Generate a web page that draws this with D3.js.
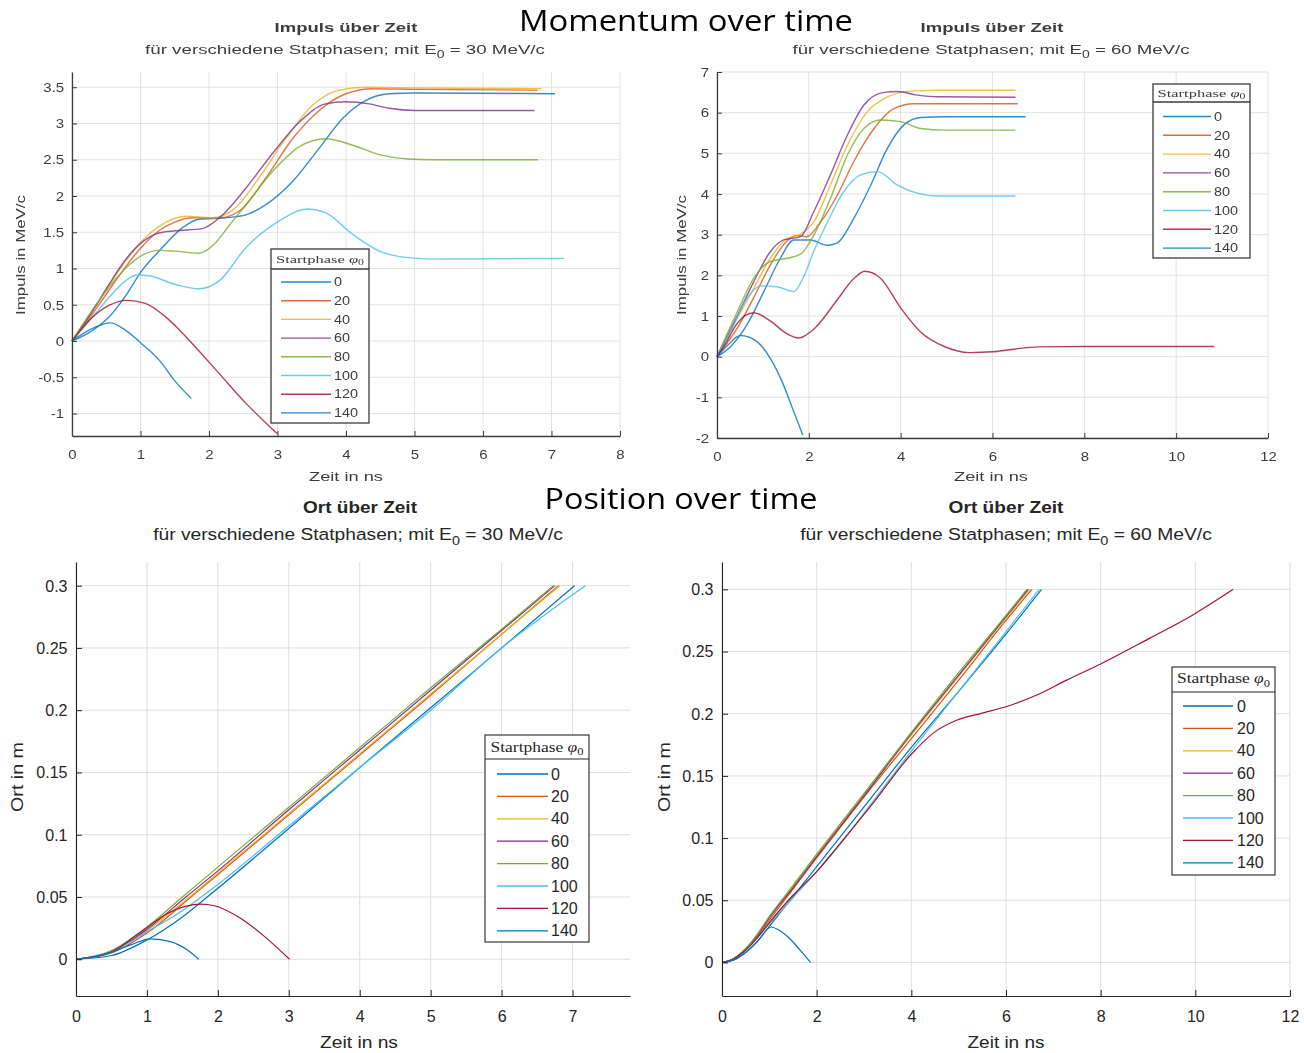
<!DOCTYPE html>
<html>
<head>
<meta charset="utf-8">
<script src="https://cdn.jsdelivr.net/npm/d3@7"></script>
<style>
  html, body { margin: 0; padding: 0; background: #fff; }
  svg { display: block; }
</style>
</head>
<body>
<svg id="fig" width="1304" height="1053"></svg>
<script>
// Startphasen und MATLAB-Farbreihenfolge
const phases = [0, 20, 40, 60, 80, 100, 120, 140];
const phaseColors = ["#0072BD", "#D95319", "#EDB120", "#7E2F8E", "#77AC30", "#4DBEEE", "#A2142F", "#0072BD"];

// Impuls über Zeit, E0 = 30 MeV/c  ([t in ns, p in MeV/c])
const impuls30 = [
  [[0,0],[0.29,0.14],[0.54,0.33],[0.78,0.62],[1.02,0.97],[1.27,1.24],[1.61,1.56],[1.85,1.68],[2.24,1.7],[2.54,1.74],[2.83,1.88],[3.22,2.2],[3.61,2.66],[3.95,3.07],[4.29,3.32],[4.63,3.41],[5.0,3.42],[7.05,3.41]],
  [[0,0],[0.29,0.36],[0.54,0.7],[0.78,1.02],[1.02,1.3],[1.27,1.52],[1.5,1.64],[1.76,1.7],[2.15,1.7],[2.44,1.79],[2.83,2.25],[3.22,2.79],[3.61,3.18],[4.0,3.41],[4.39,3.48],[5.0,3.47],[6.8,3.46]],
  [[0,0],[0.29,0.4],[0.54,0.76],[0.78,1.1],[1.02,1.38],[1.27,1.58],[1.66,1.72],[2.05,1.7],[2.39,1.84],[2.73,2.25],[3.12,2.79],[3.51,3.25],[3.9,3.46],[4.29,3.5],[5.0,3.49],[6.85,3.48]],
  [[0,0],[0.29,0.4],[0.54,0.78],[0.78,1.12],[1.02,1.36],[1.27,1.49],[1.51,1.52],[1.9,1.55],[2.2,1.74],[2.54,2.11],[2.93,2.59],[3.32,3.02],[3.7,3.27],[4.0,3.3],[4.34,3.27],[4.63,3.21],[5.0,3.18],[6.75,3.18]],
  [[0,0],[0.29,0.42],[0.54,0.74],[0.78,1.0],[1.02,1.18],[1.27,1.25],[1.5,1.24],[1.85,1.21],[2.1,1.36],[2.3,1.6],[2.54,1.88],[2.93,2.34],[3.32,2.68],[3.7,2.79],[4.1,2.7],[4.49,2.57],[4.9,2.51],[5.3,2.5],[6.8,2.5]],
  [[0,0],[0.29,0.32],[0.54,0.6],[0.78,0.83],[0.95,0.91],[1.12,0.9],[1.51,0.78],[1.85,0.72],[2.15,0.83],[2.54,1.29],[2.98,1.63],[3.45,1.82],[3.7,1.77],[4.1,1.47],[4.49,1.24],[4.9,1.15],[5.3,1.13],[7.18,1.14]],
  [[0,0],[0.29,0.32],[0.54,0.49],[0.8,0.56],[1.07,0.52],[1.37,0.33],[1.76,-0.04],[2.15,-0.45],[2.54,-0.86],[2.83,-1.13],[3.0,-1.28]],
  [[0,0],[0.29,0.17],[0.56,0.25],[0.78,0.15],[1.02,-0.04],[1.27,-0.26],[1.51,-0.56],[1.74,-0.79]]
];

// Impuls über Zeit, E0 = 60 MeV/c
const impuls60 = [
  [[0,0],[0.3,0.25],[0.65,0.78],[1.02,1.6],[1.38,2.42],[1.67,2.87],[2.04,2.87],[2.4,2.74],[2.62,2.8],[2.98,3.4],[3.35,4.22],[3.71,5.12],[4.07,5.7],[4.44,5.88],[5.0,5.9],[6.72,5.9]],
  [[0,0],[0.44,0.7],[0.8,1.45],[1.16,2.25],[1.53,2.85],[1.75,2.98],[1.95,2.95],[2.25,3.3],[2.62,3.97],[2.98,4.8],[3.42,5.61],[3.85,6.1],[4.29,6.22],[5.0,6.22],[6.55,6.22]],
  [[0,0],[0.44,0.94],[0.8,1.68],[1.16,2.42],[1.53,2.91],[1.8,3.0],[2.11,3.32],[2.47,4.22],[2.84,5.2],[3.27,6.02],[3.7,6.38],[4.22,6.53],[5.0,6.55],[6.5,6.55]],
  [[0,0],[0.44,1.0],[0.8,1.84],[1.16,2.58],[1.45,2.87],[1.82,2.95],[2.11,3.57],[2.47,4.47],[2.84,5.45],[3.2,6.19],[3.64,6.5],[3.93,6.52],[4.36,6.43],[4.8,6.39],[6.5,6.38]],
  [[0,0],[0.44,1.1],[0.8,1.93],[1.16,2.34],[1.53,2.42],[1.82,2.52],[2.11,2.99],[2.47,3.89],[2.84,4.96],[3.2,5.61],[3.56,5.82],[4.0,5.78],[4.44,5.61],[4.95,5.57],[6.5,5.57]],
  [[0,0],[0.29,0.61],[0.65,1.43],[0.95,1.74],[1.31,1.72],[1.67,1.6],[1.9,2.0],[2.11,2.6],[2.4,3.3],[2.76,4.06],[3.13,4.47],[3.5,4.55],[3.93,4.22],[4.36,4.02],[4.8,3.95],[6.5,3.95]],
  [[0,0],[0.2,0.35],[0.44,0.82],[0.8,1.08],[1.16,0.88],[1.5,0.58],[1.78,0.46],[2.11,0.68],[2.62,1.4],[2.98,1.92],[3.22,2.1],[3.56,1.93],[4.0,1.2],[4.44,0.6],[4.95,0.25],[5.5,0.1],[6.0,0.12],[6.5,0.19],[7.0,0.24],[8.0,0.25],[10.83,0.25]],
  [[0,0],[0.25,0.3],[0.51,0.52],[0.87,0.37],[1.16,-0.04],[1.45,-0.7],[1.67,-1.35],[1.87,-1.93]]
];

// Ort über Zeit, E0 = 30 MeV/c  ([t in ns, x in m])
const ort30 = [
  [[0,0],[0.5,0.003],[1,0.0155],[1.5,0.034],[1.85,0.05],[3,0.105],[4,0.154],[5,0.202],[6,0.25],[7.03,0.3]],
  [[0,0],[0.5,0.005],[1,0.021],[1.62,0.05],[2,0.068],[3,0.116],[4,0.164],[5,0.212],[6,0.261],[6.8,0.3]],
  [[0,0],[0.5,0.006],[1,0.023],[1.6,0.05],[2,0.069],[3,0.117],[4,0.165],[5,0.213],[6,0.261],[6.82,0.3]],
  [[0,0],[0.5,0.006],[1,0.024],[1.55,0.05],[2,0.071],[3,0.12],[4,0.168],[5,0.216],[6,0.264],[6.75,0.3]],
  [[0,0],[0.5,0.007],[1,0.026],[1.5,0.05],[2,0.074],[3,0.122],[4,0.17],[5,0.218],[6,0.265],[6.73,0.3]],
  [[0,0],[0.5,0.006],[1,0.022],[1.5,0.039],[2,0.06],[3,0.107],[4,0.154],[5,0.2],[6,0.25],[7.18,0.3]],
  [[0,0],[0.5,0.006],[0.86,0.0196],[1.33,0.038],[1.76,0.0442],[1.95,0.043],[2.28,0.0343],[2.66,0.0182],[3.01,0]],
  [[0,0],[0.38,0.0035],[0.76,0.0114],[1.05,0.0164],[1.33,0.0142],[1.57,0.0075],[1.73,0]]
];

// Ort über Zeit, E0 = 60 MeV/c
const ort60 = [
  [[0,0],[0.25,0.002],[0.5,0.008],[0.75,0.017],[1,0.029],[1.5,0.053],[2,0.077],[3,0.125],[4,0.173],[5,0.218],[6,0.264],[6.75,0.3]],
  [[0,0],[0.25,0.003],[0.5,0.01],[0.75,0.021],[1,0.034],[1.5,0.059],[2,0.084],[3,0.133],[4,0.18],[5,0.227],[6,0.275],[6.55,0.3]],
  [[0,0],[0.25,0.003],[0.5,0.011],[0.75,0.022],[1,0.036],[1.5,0.061],[2,0.086],[3,0.135],[4,0.183],[5,0.23],[6,0.277],[6.5,0.3]],
  [[0,0],[0.25,0.003],[0.5,0.011],[0.75,0.022],[1,0.036],[1.5,0.06],[2,0.085],[3,0.134],[4,0.184],[5,0.231],[6,0.278],[6.47,0.3]],
  [[0,0],[0.25,0.003],[0.5,0.011],[0.75,0.023],[1,0.037],[1.5,0.062],[2,0.087],[3,0.136],[4,0.185],[5,0.233],[6,0.279],[6.44,0.3]],
  [[0,0],[0.25,0.003],[0.5,0.01],[0.75,0.02],[1,0.031],[1.5,0.052],[2,0.073],[2.5,0.095],[3,0.12],[4,0.17],[5,0.218],[6,0.266],[6.7,0.3]],
  [[0,0],[0.25,0.003],[0.5,0.01],[0.75,0.02],[1,0.032],[1.5,0.054],[2,0.073],[2.48,0.095],[3.23,0.13],[3.99,0.167],[4.52,0.186],[4.97,0.195],[5.5,0.2005],[6.03,0.206],[6.71,0.216],[7.28,0.227],[8,0.24],[9.05,0.261],[9.93,0.279],[10.8,0.3]],
  [[0,0],[0.25,0.002],[0.5,0.008],[0.75,0.017],[1.04,0.0285],[1.2,0.026],[1.39,0.0206],[1.65,0.0099],[1.87,0]]
];

// Achsenticks
const impuls30XTicks = [0, 1, 2, 3, 4, 5, 6, 7, 8];
const impuls30YTicks = [-1, -0.5, 0, 0.5, 1, 1.5, 2, 2.5, 3, 3.5];
const impuls60XTicks = [0, 2, 4, 6, 8, 10, 12];
const impuls60YTicks = [-2, -1, 0, 1, 2, 3, 4, 5, 6, 7];
const ort30XTicks = [0, 1, 2, 3, 4, 5, 6, 7];
const ort60XTicks = [0, 2, 4, 6, 8, 10, 12];
const ortYTicks = [0, 0.05, 0.1, 0.15, 0.2, 0.25, 0.3];

const FONT = "'Liberation Sans', Arial, Helvetica, sans-serif";
const SERIF = "'Liberation Serif', 'DejaVu Serif', serif";

const svg = d3.select("#fig");

svg.append("defs").append("filter")
  .attr("id", "soft")
  .append("feGaussianBlur")
  .attr("stdDeviation", 0.45);

// Text mittig setzen und horizontal auf Zielbreite strecken
function placeText(parent, o) {
  const t = parent.append("text")
    .attr("text-anchor", "middle")
    .attr("dy", "0.35em")
    .attr("font-family", o.family || FONT)
    .attr("font-size", o.size)
    .attr("font-weight", o.weight || "normal")
    .attr("fill", o.fill || "#262626");
  if (o.build) o.build(t);
  else t.text(o.text);
  let tr = "translate(" + o.x + "," + o.y + ")";
  if (o.rotate) tr += " rotate(" + o.rotate + ")";
  if (o.width) {
    const w = t.node().getComputedTextLength();
    if (w > 0) tr += " scale(" + (o.width / w) + ",1)";
  }
  t.attr("transform", tr);
  return t;
}

function subtitleBuilder(energy, size) {
  return (t) => {
    t.append("tspan").text("für verschiedene Statphasen; mit E");
    t.append("tspan").attr("dy", size * 0.32).attr("font-size", size * 0.75).text("0");
    t.append("tspan").attr("dy", -size * 0.32).text(" = " + energy + " MeV/c");
  };
}

function legendTitleBuilder(size) {
  return (t) => {
    t.append("tspan").text("Startphase ");
    t.append("tspan").attr("font-style", "italic").text("φ");
    t.append("tspan").attr("dy", size * 0.25).attr("font-size", size * 0.72).text("0");
  };
}

const panels = [
  {
    series: impuls30, xTicks: impuls30XTicks, yTicks: impuls30YTicks,
    xDomain: [0, 8], xRange: [72, 620], yDomain: [-1.31, 3.71], yRange: [436, 72],
    title: "Impuls über Zeit", energy: "30", ylabel: "Impuls in MeV/c",
    titlePos: [346, 27, 143], subPos: [345, 49, 400], xlabPos: [346, 476, 74], ylabPos: [20, 255, 120],
    small: true,
    legend: { x: 271, y: 249, w: 98, h: 174, title: 10, sep: 20, first: 33, row: 18.7, l0: 10, l1: 60, lt: 63, tw: 88 }
  },
  {
    series: impuls60, xTicks: impuls60XTicks, yTicks: impuls60YTicks,
    xDomain: [0, 12], xRange: [717, 1268], yDomain: [-2, 7], yRange: [438, 72],
    title: "Impuls über Zeit", energy: "60", ylabel: "Impuls in MeV/c",
    titlePos: [992, 27, 143], subPos: [991, 49, 397], xlabPos: [991, 476, 74], ylabPos: [681, 255, 120],
    small: true,
    legend: { x: 1153, y: 84, w: 97, h: 174, title: 9, sep: 18, first: 32.5, row: 18.8, l0: 10, l1: 58, lt: 61, tw: 88 }
  },
  {
    series: ort30, xTicks: ort30XTicks, yTicks: ortYTicks,
    xDomain: [0, 7.81], xRange: [76, 630], yDomain: [-0.0295, 0.319], yRange: [996, 562],
    title: "Ort über Zeit", energy: "30", ylabel: "Ort in m",
    titlePos: [360, 507, 114], subPos: [358, 534, 410], xlabPos: [359, 1042, 78], ylabPos: [17, 777, 70],
    small: false,
    legend: { x: 485, y: 735, w: 104, h: 207, title: 12, sep: 24, first: 39, row: 22.4, l0: 12, l1: 63, lt: 66, tw: 93 }
  },
  {
    series: ort60, xTicks: ort60XTicks, yTicks: ortYTicks,
    xDomain: [0, 12], xRange: [722, 1290], yDomain: [-0.027, 0.322], yRange: [996, 562],
    title: "Ort über Zeit", energy: "60", ylabel: "Ort in m",
    titlePos: [1006, 507, 115], subPos: [1006, 534, 412], xlabPos: [1006, 1042, 77], ylabPos: [664, 777, 70],
    small: false,
    legend: { x: 1172, y: 667, w: 103, h: 208, title: 11.5, sep: 25, first: 39, row: 22.4, l0: 11, l1: 61, lt: 65, tw: 93 }
  }
];

function drawPanel(p) {
  const g = svg.append("g");
  if (p.small) g.attr("filter", "url(#soft)");

  const ink = p.small ? "#3c3c3c" : "#262626";
  const tickFs = p.small ? 12.5 : 16;
  const textSx = p.small ? 1.2 : 1.0;
  const tickLen = p.small ? 5 : 6;

  const x = d3.scaleLinear().domain(p.xDomain).range(p.xRange);
  const y = d3.scaleLinear().domain(p.yDomain).range(p.yRange);

  // Gitter
  const grid = g.append("g").attr("stroke", p.small ? "#e2e2e2" : "#dedede").attr("stroke-width", 1);
  grid.selectAll("line.gx").data(p.xTicks).join("line")
    .attr("class", "gx")
    .attr("x1", (d) => x(d)).attr("x2", (d) => x(d))
    .attr("y1", p.yRange[0]).attr("y2", p.yRange[1]);
  grid.selectAll("line.gy").data(p.yTicks).join("line")
    .attr("class", "gy")
    .attr("x1", p.xRange[0]).attr("x2", p.xRange[1])
    .attr("y1", (d) => y(d)).attr("y2", (d) => y(d));

  // Kurven
  const line = d3.line()
    .x((d) => x(d[0]))
    .y((d) => y(d[1]))
    .curve(d3.curveMonotoneX);

  g.append("g").selectAll("path").data(p.series).join("path")
    .attr("d", line)
    .attr("fill", "none")
    .attr("stroke", (d, i) => phaseColors[i])
    .attr("stroke-opacity", p.small ? 0.8 : 1)
    .attr("stroke-width", p.small ? 1.4 : 1.2)
    .attr("stroke-linejoin", "round");

  // Achsen
  const fmt = (d) => String(d);
  const xAxis = g.append("g")
    .attr("transform", "translate(0," + p.yRange[0] + ")")
    .call(d3.axisBottom(x).tickValues(p.xTicks).tickFormat(fmt)
      .tickSize(-tickLen).tickSizeOuter(0).tickPadding(p.small ? 14 : 14.5));
  const yAxis = g.append("g")
    .attr("transform", "translate(" + p.xRange[0] + ",0)")
    .call(d3.axisLeft(y).tickValues(p.yTicks).tickFormat(fmt)
      .tickSize(-tickLen).tickSizeOuter(0).tickPadding(p.small ? 6.5 : 8.5));

  [xAxis, yAxis].forEach((ax) => {
    ax.attr("font-family", FONT).attr("font-size", tickFs);
    ax.select(".domain").attr("stroke", ink).attr("stroke-width", p.small ? 1.3 : 1.1);
    ax.selectAll(".tick line").attr("stroke", ink);
    ax.selectAll(".tick text").attr("fill", ink).attr("transform", "scale(" + textSx + ",1)");
  });
  yAxis.selectAll(".tick text").attr("dy", "0.34em");

  // Titel und Beschriftungen
  const titleFs = p.small ? 13.5 : 17;
  placeText(g, { text: p.title, x: p.titlePos[0], y: p.titlePos[1], width: p.titlePos[2],
    size: titleFs, weight: "bold", fill: ink });
  placeText(g, { build: subtitleBuilder(p.energy, titleFs), x: p.subPos[0], y: p.subPos[1],
    width: p.subPos[2], size: titleFs, fill: ink });
  placeText(g, { text: "Zeit in ns", x: p.xlabPos[0], y: p.xlabPos[1], width: p.xlabPos[2],
    size: titleFs, fill: ink });
  placeText(g, { text: p.ylabel, x: p.ylabPos[0], y: p.ylabPos[1], width: p.ylabPos[2],
    size: titleFs, rotate: -90, fill: ink });

  drawLegend(g, p, ink);
}

function drawLegend(parent, p, ink) {
  const L = p.legend;
  const fs = p.small ? 12 : 16;
  const tfs = p.small ? 10.5 : 14;
  const g = parent.append("g").attr("transform", "translate(" + L.x + "," + L.y + ")");

  g.append("rect")
    .attr("width", L.w).attr("height", L.h)
    .attr("fill", "#fff").attr("stroke", ink).attr("stroke-width", p.small ? 1.3 : 1.1);
  g.append("line")
    .attr("x1", 0).attr("x2", L.w).attr("y1", L.sep).attr("y2", L.sep)
    .attr("stroke", ink).attr("stroke-width", p.small ? 1.3 : 1.1);

  placeText(g, { build: legendTitleBuilder(tfs), x: L.w / 2, y: L.title, width: L.tw,
    size: tfs, family: SERIF, fill: ink });

  const rows = g.selectAll("g.row").data(phases).join("g")
    .attr("class", "row")
    .attr("transform", (d, i) => "translate(0," + (L.first + i * L.row) + ")");

  rows.append("line")
    .attr("x1", L.l0).attr("x2", L.l1)
    .attr("stroke", (d, i) => phaseColors[i])
    .attr("stroke-opacity", p.small ? 0.85 : 1)
    .attr("stroke-width", p.small ? 1.4 : 1.3);

  rows.append("text")
    .attr("x", L.lt / (p.small ? 1.2 : 1.0))
    .attr("dy", "0.35em")
    .attr("font-family", FONT)
    .attr("font-size", fs)
    .attr("fill", ink)
    .attr("transform", "scale(" + (p.small ? 1.2 : 1.0) + ",1)")
    .text((d) => d);
}

panels.forEach(drawPanel);

// Überschriften der Folie
const heading = svg.append("g");
placeText(heading, { text: "Momentum over time", x: 686, y: 21, width: 334, size: 29,
  family: "'Open Sans', Lato, sans-serif", fill: "#000" });
placeText(heading, { text: "Position over time", x: 681, y: 499, width: 273, size: 29,
  family: "'Open Sans', Lato, sans-serif", fill: "#000" });
</script>
</body>
</html>
